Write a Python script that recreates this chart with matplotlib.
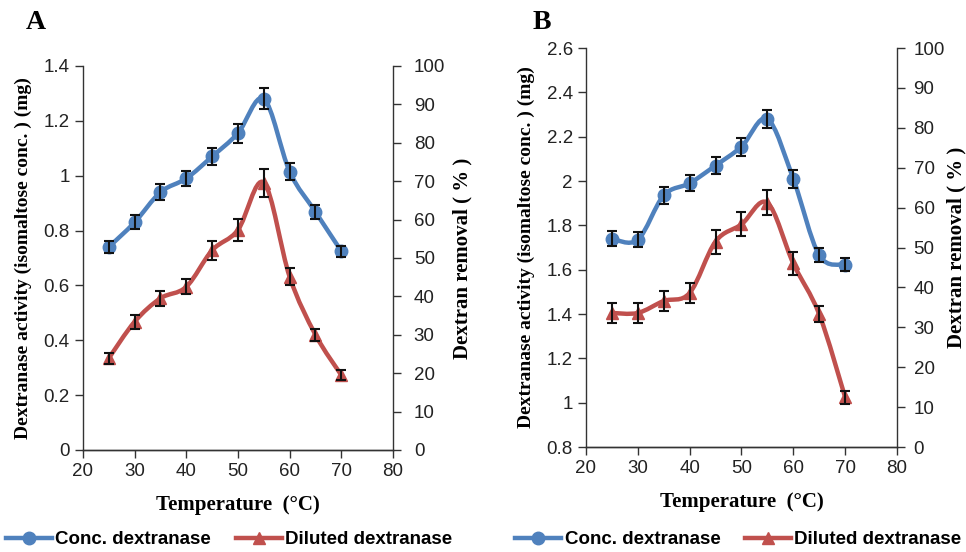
import matplotlib
matplotlib.use("Agg")
import matplotlib.pyplot as plt
from matplotlib.path import Path
from matplotlib.patches import PathPatch
from matplotlib.lines import Line2D
from matplotlib.ticker import FuncFormatter, MultipleLocator

temps = [25, 30, 35, 40, 45, 50, 55, 60, 65, 70]

# panel A
a_conc = [0.74, 0.83, 0.94, 0.99, 1.07, 1.155, 1.28, 1.015, 0.868, 0.725]
a_conc_err = [0.022, 0.025, 0.028, 0.027, 0.03, 0.035, 0.038, 0.032, 0.025, 0.02]
a_dil = [23.9, 33.4, 39.5, 42.5, 52.0, 57.3, 69.6, 45.1, 30.0, 19.5]
a_dil_err = [1.4, 1.8, 2.0, 2.0, 2.5, 2.8, 3.6, 2.2, 1.6, 1.2]

# panel B
b_conc = [1.74, 1.735, 1.935, 1.99, 2.07, 2.155, 2.28, 2.01, 1.665, 1.623]
b_conc_err = [0.033, 0.033, 0.038, 0.035, 0.037, 0.04, 0.042, 0.04, 0.032, 0.03]
b_dil = [33.6, 33.6, 36.6, 38.6, 51.5, 55.8, 61.2, 46.0, 33.3, 12.5]
b_dil_err = [2.4, 2.4, 2.5, 2.5, 3.0, 3.0, 3.1, 2.8, 2.0, 1.6]

BLUE = "#4F81BD"
RED = "#C0504D"
SERIF = "Liberation Serif"
SANS = "Liberation Sans"


def smooth_path(xs, ys):
    # Excel-style smoothed line: Catmull-Rom as cubic beziers
    pts = list(zip(xs, ys))
    n = len(pts)
    verts = [pts[0]]
    codes = [Path.MOVETO]
    for i in range(n - 1):
        p0 = pts[i - 1] if i > 0 else pts[i]
        p1 = pts[i]
        p2 = pts[i + 1]
        p3 = pts[i + 2] if i + 2 < n else pts[i + 1]
        c1 = (p1[0] + (p2[0] - p0[0]) / 6, p1[1] + (p2[1] - p0[1]) / 6)
        c2 = (p2[0] - (p3[0] - p1[0]) / 6, p2[1] - (p3[1] - p1[1]) / 6)
        verts += [c1, c2, p2]
        codes += [Path.CURVE4] * 3
    return Path(verts, codes)


def fmt(v, _):
    return f"{v:g}"


def panel(fig, rect, conc, conc_err, dil, dil_err, ylim, letter, letter_xy, rpad, rlabelpad):
    ax = fig.add_axes(rect)
    ax2 = ax.twinx()

    ax.add_patch(PathPatch(smooth_path(temps, conc), fill=False, edgecolor=BLUE, lw=3.2, zorder=2))
    ax.plot(temps, conc, "o", color=BLUE, ms=9, zorder=3)
    ax.errorbar(temps, conc, yerr=conc_err, fmt="none", ecolor="#111111", elinewidth=1.5,
                capsize=3.5, capthick=1.5, zorder=4)

    ax2.add_patch(PathPatch(smooth_path(temps, dil), fill=False, edgecolor=RED, lw=3.2, zorder=2))
    ax2.plot(temps, dil, "^", color=RED, ms=8.5, zorder=3)
    ax2.errorbar(temps, dil, yerr=dil_err, fmt="none", ecolor="#111111", elinewidth=1.5,
                 capsize=3.5, capthick=1.5, zorder=4)

    ax.set_xlim(20, 80)
    ax.xaxis.set_major_locator(MultipleLocator(10))
    ax.set_ylim(*ylim)
    ax.yaxis.set_major_locator(MultipleLocator(0.2))
    ax.yaxis.set_major_formatter(FuncFormatter(fmt))
    ax2.set_ylim(0, 100)
    ax2.yaxis.set_major_locator(MultipleLocator(10))

    for a in (ax, ax2):
        a.spines["top"].set_visible(False)
        for s in a.spines.values():
            s.set_color("#333333")
            s.set_linewidth(1.0)
        a.tick_params(direction="out", length=6, width=1.0, color="#333333",
                      labelsize=13.5, labelcolor="#222222")
        for lab in a.get_xticklabels() + a.get_yticklabels():
            lab.set_family(SANS)
    ax2.tick_params(axis="y", pad=rpad)
    ax2.spines["left"].set_visible(False)
    ax.spines["right"].set_visible(False)

    ax.set_ylabel("Dextranase activity (isomaltose conc. ) (mg)", family=SERIF,
                  fontweight="bold", fontsize=14, labelpad=8)
    ax2.set_ylabel("Dextran removal ( % )", family=SERIF, fontweight="bold",
                   fontsize=15, labelpad=rlabelpad)
    ax.set_xlabel("Temperature  (°C)", family=SERIF, fontweight="bold",
                  fontsize=15, labelpad=11)
    fig.text(letter_xy[0], letter_xy[1], letter, family=SERIF, fontweight="bold",
             fontsize=20, ha="left", va="center")
    return ax


fig = plt.figure(figsize=(9.66, 5.52), dpi=100)

panel(fig, [0.0859, 0.1848, 0.3209, 0.6957], a_conc, a_conc_err, a_dil, a_dil_err,
      (0, 1.4), "A", (0.027, 0.96), 9, 5)
panel(fig, [0.6066, 0.1902, 0.3219, 0.7228], b_conc, b_conc_err, b_dil, b_dil_err,
      (0.8, 2.6), "B", (0.551, 0.96), 6, 1)

handles = [
    Line2D([], [], color=BLUE, lw=3.2, marker="o", ms=9),
    Line2D([], [], color=RED, lw=3.2, marker="^", ms=8.5),
]
labels = ["Conc. dextranase", "Diluted dextranase"]
for x0 in (0.006, 0.533):
    fig.legend(handles, labels, loc="center left", bbox_to_anchor=(x0, 0.022), ncol=2,
               frameon=False, handlelength=2.45, handletextpad=0.2, columnspacing=1.3,
               borderpad=0, borderaxespad=0,
               prop={"family": SANS, "weight": "bold", "size": 13.5})

fig.savefig("out.png", dpi=100)
